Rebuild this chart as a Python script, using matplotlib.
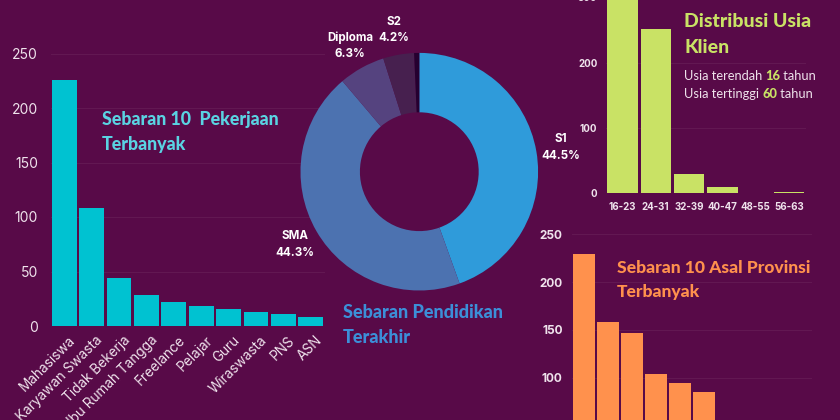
#!/usr/bin/env python3
"""Infografis klien: pekerjaan, pendidikan, usia dan provinsi."""
import matplotlib
matplotlib.use("Agg")
import matplotlib.pyplot as plt
from matplotlib.transforms import ScaledTranslation

W, H = 840, 420
BG = "#580A48"
TICK = "#EFE3EC"
GRID = "#651B55"

pekerjaan = ["Mahasiswa", "Karyawan Swasta", "Tidak Bekerja", "Ibu Rumah Tangga", "Freelance",
             "Pelajar", "Guru", "Wiraswasta", "PNS", "ASN"]
pekerjaan_n = [226, 108, 44, 28, 22, 18, 16, 13, 11, 8]

pendidikan = ["S1", "SMA", "Diploma", "S2", "S3"]
pendidikan_pct = [44.5, 44.3, 6.3, 4.2, 0.7]
pendidikan_warna = ["#2F9BDA", "#4C72B0", "#55437F", "#47204F", "#250030"]

usia = ["16-23", "24-31", "32-39", "40-47", "48-55", "56-63"]
usia_n = [312, 251, 30, 10, 0, 2]

# only the first six provinces are visible, the rest fall below the picture
provinsi_n = [229, 158, 147, 104, 94, 85]

plt.rcParams["font.family"] = ["Inter", "DejaVu Sans"]

fig = plt.figure(figsize=(W / 100, H / 100), dpi=100, facecolor=BG)


def px_axes(left, top, right, bottom):
    ax = fig.add_axes([left / W, 1 - bottom / H, (right - left) / W, (bottom - top) / H])
    ax.set_facecolor("none")
    for s in ax.spines.values():
        s.set_visible(False)
    ax.tick_params(length=0)
    ax.set_axisbelow(True)
    ax.grid(axis="y", color=GRID, lw=0.6)
    return ax


def label(x, y, s, **kw):
    return fig.text(x / W, 1 - y / H, s, va="center", **kw)


def inline(x, y, parts, **kw):
    # runs of text in different styles on one line
    r = fig.canvas.get_renderer()
    for s, extra in parts:
        t = label(x, y, s, **kw, **extra)
        x += t.get_window_extent(r).width


# pekerjaan
ax = px_axes(50.5, 53.5, 324.5, 326)
ax.bar(range(10), pekerjaan_n, width=0.91, color="#00C2D1")
ax.set_xlim(-0.5, 9.5)
ax.set_ylim(0, 250)
ax.set_yticks([0, 50, 100, 150, 200, 250])
ax.tick_params(axis="y", labelsize=10, labelcolor=TICK, pad=9)
ax.set_xticks(range(10))
ax.set_xticklabels(pekerjaan, rotation=45, ha="right", rotation_mode="anchor",
                   fontsize=9.8, color=TICK)
ax.tick_params(axis="x", pad=3)
shift = ScaledTranslation(4 / 100, -3 / 100, fig.dpi_scale_trans)
for t in ax.get_xticklabels():
    t.set_transform(t.get_transform() + shift)

# pendidikan
ax = px_axes(419.3 - 118.8, 171.7 - 118.8, 419.3 + 118.8, 171.7 + 118.8)
ax.grid(False)
ax.pie(pendidikan_pct, colors=pendidikan_warna, startangle=90, counterclock=False, radius=1,
       wedgeprops={"width": 0.5})
ax.set_xlim(-1, 1)
ax.set_ylim(-1, 1)

lbl = dict(color="white", fontsize=8.3, fontweight="bold", ha="center", linespacing=1.45)
label(561, 147.5, "S1\n44.5%", **lbl)
label(295, 244.5, "SMA\n44.3%", **lbl)
label(350, 46, "Diploma\n6.3%", **lbl)
label(394, 30, "S2\n4.2%", **lbl)

# usia
ax = px_axes(605.8, -2.6, 805.8, 193.3)
ax.bar(range(6), usia_n, width=0.91, color="#C9E265")
ax.set_xlim(-0.5, 5.5)
ax.set_ylim(0, 300)
ax.set_yticks([0, 100, 200, 300])
ax.tick_params(axis="y", labelsize=7, labelcolor=TICK, pad=6)
ax.set_xticks(range(6))
ax.set_xticklabels(usia, fontsize=7, fontweight="bold", color=TICK)
ax.tick_params(axis="x", pad=6)
for t in ax.get_yticklabels():
    t.set_fontweight("bold")

# provinsi
ax = px_axes(572.3, 234.3, 812.3, 473)
ax.bar(range(len(provinsi_n)), provinsi_n, width=0.91, color="#FF914D")
ax.set_xlim(-0.5, 9.5)
ax.set_ylim(0, 250)
ax.set_yticks([0, 50, 100, 150, 200, 250])
ax.set_xticks([])
ax.tick_params(axis="y", labelsize=8.5, labelcolor=TICK, pad=7)
for t in ax.get_yticklabels():
    t.set_fontweight("bold")

# judul
judul = dict(fontfamily="Lato", fontweight="black", linespacing=1.62)
label(101.5, 132, "Sebaran 10  Pekerjaan\nTerbanyak", color="#5AD3E2", fontsize=12.8, **judul)
label(343, 325, "Sebaran Pendidikan\nTerakhir", color="#3C8FD8", fontsize=13, **judul)
label(684, 34.5, "Distribusi Usia\nKlien", color="#C9E265", fontsize=14, **judul)
label(617, 280, "Sebaran 10 Asal Provinsi\nTerbanyak", color="#FF914D", fontsize=12.6, **judul)

tebal = {"color": "#C9E265", "fontweight": "black"}
biasa = {"color": TICK}
inline(684, 76, [("Usia terendah ", biasa), ("16", tebal), (" tahun", biasa)], fontfamily="Lato", fontsize=9.3)
inline(684, 93.5, [("Usia tertinggi ", biasa), ("60", tebal), (" tahun", biasa)], fontfamily="Lato", fontsize=9.3)

fig.savefig("out.png", dpi=100, facecolor=BG)
plt.close(fig)
